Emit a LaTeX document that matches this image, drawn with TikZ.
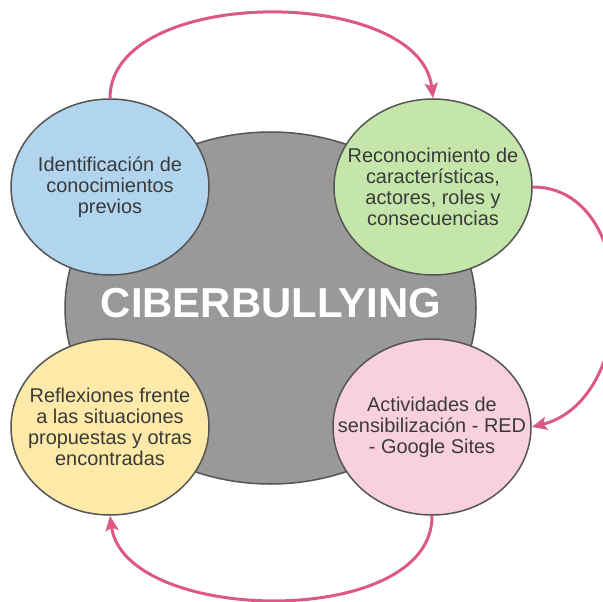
\documentclass[tikz,border=0pt]{standalone}
\usepackage{fontspec}
\setmainfont{Liberation Sans}
\usetikzlibrary{shapes.geometric,arrows.meta}
\definecolor{hubgray}{RGB}{153,153,153}
\definecolor{edgegray}{RGB}{85,85,85}
\definecolor{txtgray}{RGB}{58,58,58}
\definecolor{arrowpink}{RGB}{221,88,132}
\definecolor{bubbleblue}{RGB}{177,213,239}
\definecolor{bubblegreen}{RGB}{197,230,170}
\definecolor{bubbleyellow}{RGB}{253,233,168}
\definecolor{bubblepink}{RGB}{249,209,221}
\tikzstyle{bubble} = [ellipse, draw=edgegray, line width=1.5bp,
    minimum width=198bp, minimum height=176bp, inner sep=0pt]
\tikzstyle{bubbletext} = [align=center, text=txtgray, font=\fontsize{20}{21}\selectfont]
\tikzstyle{cycleline} = [draw=arrowpink, line width=3bp,
    -{Stealth[length=15bp, width=13bp, inset=3bp]}]

\begin{document}
\begin{tikzpicture}[x=1bp, y=-1bp]
  \useasboundingbox (0,0) rectangle (603,602);
   % Place nodes
    \node [ellipse, draw=edgegray, line width=1.5bp, fill=hubgray,
      minimum width=411bp, minimum height=352bp, inner sep=0pt] (hub) at (270.5,308) {};
    \node [text=white, font=\fontsize{42}{46}\selectfont\bfseries] (hubT) at (271,303.5) {CIBERBULLYING};
    \node [bubble, fill=bubbleblue] (ident) at (110,187) {};
    \node [bubbletext] (identT) at (ident) {Identificación de\\conocimientos\\previos};
    \node [bubble, fill=bubblegreen] (recon) at (433,187) {};
    \node [bubbletext] (reconT) at (recon) {Reconocimiento de\\características,\\actores, roles y\\consecuencias};
    \node [bubble, fill=bubblepink] (activ) at (432,427) {};
    \node [bubbletext] (activT) at (activ) {Actividades de\\sensibilización - RED\\- Google Sites};
    \node [bubble, fill=bubbleyellow] (reflex) at (110,427) {};
    \node [bubbletext] (reflexT) at (reflex) {Reflexiones frente\\a las situaciones\\propuestas y otras\\encontradas};
   % Draw edges
    \path [cycleline] (ident.north) .. controls (110,-15) and (420,-15) .. (recon.north);
    \path [cycleline] (recon.east) .. controls (640,187) and (640,400) .. (activ.east);
    \path [cycleline] (activ.south) .. controls (433,630) and (125,625) .. (reflex.south);
\end{tikzpicture}
\end{document}
